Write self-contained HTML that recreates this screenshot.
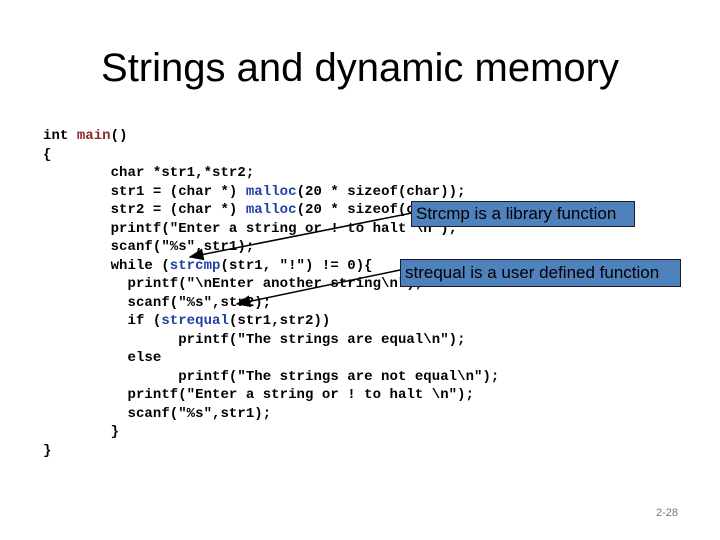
<!DOCTYPE html>
<html><head><style>
body{margin:0;width:720px;height:540px;background:#fff;position:relative;overflow:hidden;font-family:"Liberation Sans",sans-serif}
h1{position:absolute;top:42px;left:0;width:720px;text-align:center;margin:0;font-weight:normal;font-size:40px;line-height:52px;color:#000}
pre{position:absolute;left:43px;top:127px;margin:0;font-family:"Liberation Mono",monospace;font-size:14px;line-height:18.5px;color:#000;font-weight:bold;letter-spacing:0.05px}
.r{color:#8b2a2a}.b{color:#1f3fa8}
.box{position:absolute;background:#4f81bd;border:1px solid #1a1a2a;color:#000;font-size:17px;line-height:24px;white-space:nowrap;padding:0 4px}
.pg{position:absolute;right:42px;top:507px;font-size:11px;color:#777}
</style></head><body>
<h1>Strings and dynamic memory</h1>
<pre>int <span class="r">main</span>()
{
        char *str1,*str2;
        str1 = (char *) <span class="b">malloc</span>(20 * sizeof(char));
        str2 = (char *) <span class="b">malloc</span>(20 * sizeof(char));
        printf("Enter a string or ! to halt \n");
        scanf("%s",str1);
        while (<span class="b">strcmp</span>(str1, "!") != 0){
          printf("\nEnter another string\n");
          scanf("%s",str2);
          if (<span class="b">strequal</span>(str1,str2))
                printf("The strings are equal\n");
          else
                printf("The strings are not equal\n");
          printf("Enter a string or ! to halt \n");
          scanf("%s",str1);
        }
}</pre>
<svg width="720" height="540" style="position:absolute;left:0;top:0">
<defs><marker id="a" markerWidth="10" markerHeight="8" refX="9" refY="4" orient="auto"><path d="M0,0L10,4L0,8z" fill="#000"/></marker></defs>
<line x1="412" y1="213" x2="190" y2="257" stroke="#000" stroke-width="1.5" marker-end="url(#a)"/>
<line x1="400" y1="270" x2="237" y2="304" stroke="#000" stroke-width="1.5" marker-end="url(#a)"/>
</svg>
<div class="box" style="left:411px;top:201px;width:214px;height:24px">Strcmp is a library function</div>
<div class="box" style="left:400px;top:259px;width:271px;height:26px;line-height:26px">strequal is a user defined function</div>
<div class="pg">2-28</div>
</body></html>
